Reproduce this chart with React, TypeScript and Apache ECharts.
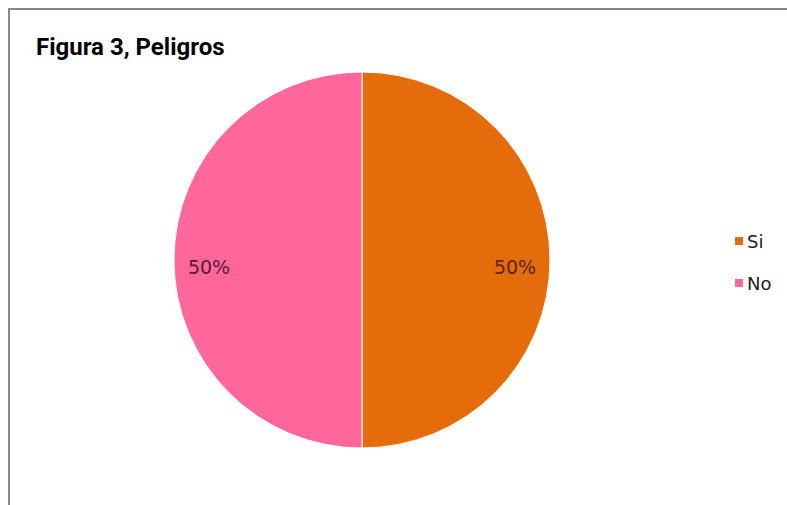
import React, { useEffect, useRef } from "react";
import * as echarts from "echarts";

const titleText = "Figura 3, Peligros";
const categories = ["Si", "No"];
const values = [50, 50];
const colors = ["#E46C0A", "#FF6699"];
const labelColors = ["#5a2606", "#5c1a34"];

export default function App() {
  const ref = useRef<HTMLDivElement>(null);
  useEffect(() => {
    if (!ref.current) return;
    const chart = echarts.init(ref.current, null, { renderer: "svg" });
    const data = categories.map((c, i) => ({
      name: c,
      value: values[i],
      itemStyle: { color: colors[i] },
    }));
    const labelData = categories.map((c, i) => ({
      name: c,
      value: values[i],
      itemStyle: { color: "rgba(0,0,0,0)" },
      label: { color: labelColors[i] },
    }));
    chart.setOption({
      animation: false,
      backgroundColor: "#ffffff",
      title: {
        text: titleText,
        left: 36,
        top: 35,
        padding: 0,
        textStyle: {
          fontFamily: "Roboto",
          fontWeight: "bold",
          fontSize: 24,
          color: "#000000",
        },
      },
      legend: {
        orient: "vertical",
        left: 728,
        top: 227,
        icon: "rect",
        itemWidth: 10,
        itemHeight: 10,
        itemGap: 24,
        data: categories,
        textStyle: {
          fontFamily: "DejaVu Sans",
          fontSize: 18,
          color: "#222222",
          padding: [0, 0, 0, -2],
        },
      },
      graphic: [
        { type: "line", shape: { x1: 9, y1: 8, x2: 9, y2: 505 }, style: { stroke: "#888888", lineWidth: 2 } },
        { type: "line", shape: { x1: 8, y1: 9, x2: 787, y2: 9 }, style: { stroke: "#888888", lineWidth: 2 } },
      ],
      series: [
        {
          type: "pie",
          center: [362, 260],
          radius: [0, 188],
          startAngle: 90,
          clockwise: true,
          label: { show: false },
          labelLine: { show: false },
          itemStyle: { borderColor: "#ffffff", borderWidth: 1 },
          emphasis: { disabled: true },
          data,
        },
        {
          type: "pie",
          center: [362, 267],
          radius: [116, 184],
          startAngle: 90,
          clockwise: true,
          silent: true,
          legendHoverLink: false,
          label: {
            show: true,
            position: "inside",
            formatter: "{d}%",
            fontFamily: "DejaVu Sans",
            fontSize: 19,
          },
          labelLine: { show: false },
          emphasis: { disabled: true },
          data: labelData,
        },
      ],
    });
    return () => chart.dispose();
  }, []);
  return (
    <div
      ref={ref}
      style={{ position: "fixed", left: 0, top: 0, width: 787, height: 505 }}
    />
  );
}
